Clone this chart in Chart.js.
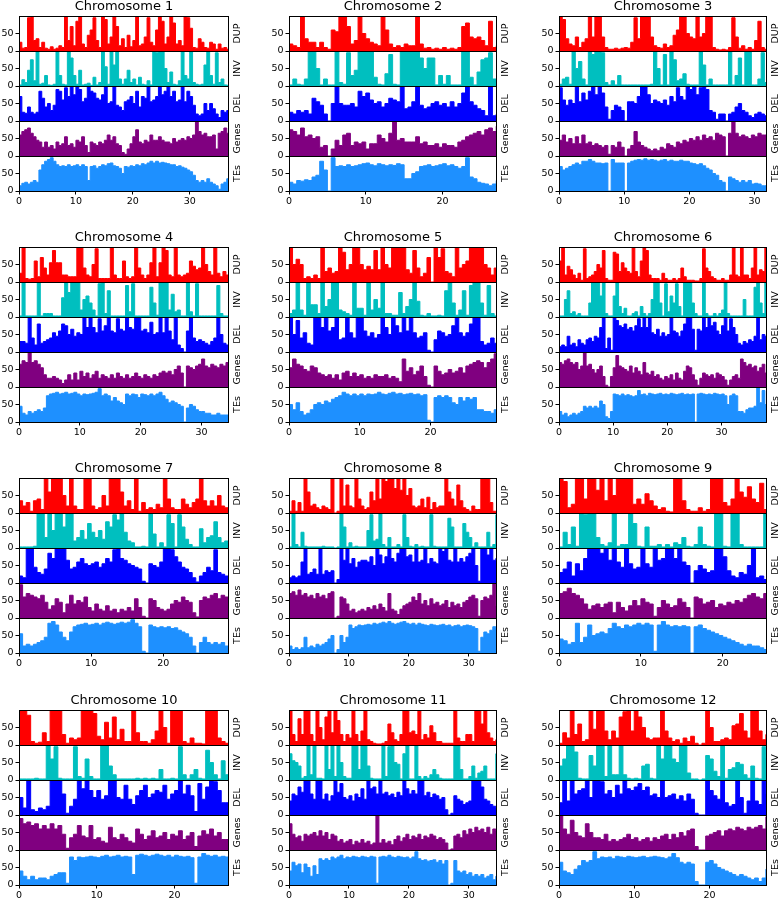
<!DOCTYPE html>
<html>
<head>
<meta charset="utf-8">
<script src="https://cdn.jsdelivr.net/npm/chart.js@4.4.1/dist/chart.umd.min.js"></script>
<style>
  html, body { margin: 0; padding: 0; background: #fff; }
  #page { position: relative; width: 780px; height: 899px; overflow: hidden; }
  #page canvas { position: absolute; }
</style>
</head>
<body>
<div id="page"></div>
<script>
// Per-chromosome density tracks, 0.5 Mb bins, values in percent.
const binSize = 0.5;
const chromLengths = [36.9, 27.1, 31.9, 34.5, 29.4, 38.4, 29.1, 34.7, 25.4, 27.0, 34.7, 27.65];
const trackNames = ['DUP', 'INV', 'DEL', 'Genes', 'TEs'];
const trackColors = ['#ff0000', '#00bfbf', '#0000ff', '#800080', '#1e90ff'];
const xTicks = [0, 10, 20, 30];
const yTicks = [0, 50];

const dup1 = [25,8,10,95,100,30,35,10,25,8,5,12,5,8,15,10,100,30,70,15,85,100,20,10,45,60,95,30,10,100,90,20,40,100,70,15,35,10,45,12,30,100,15,20,40,95,25,15,60,100,85,20,40,100,80,20,30,15,100,95,65,10,8,35,25,10,8,25,20,5,20,8,10,5];
const inv1 = [3,18,10,45,75,15,100,5,8,30,3,2,5,100,30,5,3,100,80,30,5,45,3,5,8,2,25,3,10,100,55,5,100,60,100,20,5,20,45,10,20,3,25,5,3,15,3,100,95,100,100,50,10,40,5,3,15,100,30,20,100,10,5,3,5,60,100,30,5,95,10,20,3,2];
const del1 = [70,25,22,40,25,20,25,85,65,40,50,30,45,90,85,60,95,70,100,75,100,90,55,65,100,85,80,65,60,75,100,50,55,100,45,40,30,55,60,70,50,85,40,70,65,100,55,60,70,100,75,85,100,70,85,55,60,100,55,85,70,45,20,15,20,50,30,50,35,20,10,30,25,30];
const genes1 = [60,70,75,80,65,55,45,40,25,40,25,30,20,40,30,35,55,30,35,25,45,40,55,30,10,40,35,30,40,35,45,60,45,55,35,30,10,5,20,35,55,75,40,35,45,40,60,45,45,55,45,40,40,35,50,40,45,50,45,55,50,60,100,70,60,65,55,55,60,20,65,70,80,65];
const tes1 = [15,22,25,20,25,30,25,60,75,85,90,95,85,75,70,72,70,75,70,72,75,70,75,70,30,70,72,65,70,75,72,78,80,72,70,65,50,70,68,72,70,75,72,78,75,80,85,80,85,80,82,80,78,75,75,70,72,68,65,60,55,45,30,25,30,25,35,25,20,15,5,20,25,35];

const dup2 = [20,15,10,100,35,25,25,10,25,10,5,60,55,100,100,70,20,30,100,50,35,25,20,15,100,60,20,10,15,10,20,15,15,100,20,8,10,5,8,5,10,5,8,5,10,70,80,40,35,40,30,15,85,10,15];
const inv2 = [3,20,5,3,20,100,100,50,3,20,3,3,100,10,5,95,30,45,100,100,100,100,25,5,3,35,90,5,3,100,100,100,100,100,80,50,80,80,3,30,5,30,3,3,3,100,100,25,3,40,75,80,95,20,3];
const del2 = [25,20,30,25,30,20,65,55,45,20,0,50,100,50,45,45,50,40,85,70,80,60,50,55,40,50,65,60,55,100,35,40,55,100,45,35,40,50,55,45,50,40,55,40,50,80,100,55,45,35,30,15,100,15,20];
const genes2 = [75,70,60,80,55,60,50,55,25,30,0,20,45,30,60,65,30,40,35,40,20,35,35,60,50,40,65,100,45,50,40,40,40,55,35,40,30,30,35,25,35,30,30,25,40,45,55,60,65,70,60,75,80,70,85];
const tes2 = [25,20,30,28,32,30,40,45,85,60,0,95,70,72,70,75,70,72,75,78,80,75,72,78,75,72,75,73,78,75,35,35,50,55,70,72,75,70,72,75,78,72,75,70,65,70,95,40,35,25,22,20,15,20,30];

const dup3 = [100,90,35,20,15,40,10,25,35,100,40,100,100,40,10,5,5,8,5,8,10,8,25,95,35,100,100,100,40,15,10,8,20,10,15,45,60,100,100,50,40,35,100,40,50,100,100,10,5,3,5,3,10,95,40,8,15,5,10,5,30,85,10,5];
const inv3 = [5,20,25,5,100,50,70,20,3,100,90,100,100,95,10,3,15,3,30,3,3,3,3,3,3,3,3,3,5,100,50,3,90,3,100,75,15,20,35,5,3,3,3,100,60,3,20,3,3,3,3,3,100,3,30,80,3,100,100,3,3,20,95,10];
const del3 = [95,60,45,60,50,100,55,80,60,85,100,75,100,80,40,5,30,45,40,30,0,55,55,50,70,100,100,75,50,60,55,50,60,45,70,55,95,70,60,100,90,100,75,95,100,90,30,25,5,20,20,0,20,25,40,50,30,25,15,10,20,25,20,15];
const genes3 = [45,60,40,50,35,55,35,60,35,40,30,35,30,25,30,5,30,25,40,25,0,20,30,70,40,30,25,20,15,20,15,25,20,35,30,25,40,35,45,40,50,45,55,45,60,50,55,45,65,60,55,0,65,100,65,55,60,55,50,60,55,65,60,60];
const tes3 = [70,60,65,70,75,80,75,85,85,90,85,80,80,78,80,0,90,80,80,80,0,80,85,88,90,88,92,88,90,88,85,88,90,85,88,85,85,88,85,85,80,78,75,78,72,65,60,50,45,30,25,0,40,35,30,25,30,25,30,20,22,20,15,15];

const dup4 = [25,100,10,8,10,60,15,70,40,20,55,90,55,55,20,20,15,15,15,100,100,40,20,15,50,95,10,10,10,10,100,20,10,10,60,15,10,15,100,40,20,10,20,55,100,15,55,100,90,20,15,100,20,15,20,25,60,45,35,40,100,50,30,20,100,25,15,30,20];
const inv4 = [3,100,3,3,3,3,100,3,10,10,10,3,3,3,55,100,70,100,100,100,20,50,60,40,20,3,95,100,10,75,3,3,3,3,3,90,15,95,3,3,3,3,3,85,40,5,100,100,100,20,65,15,20,3,3,100,15,3,95,3,3,3,3,3,3,90,10,3,3];
const del4 = [30,30,25,100,40,20,80,25,30,35,40,55,45,60,80,75,50,65,45,55,50,100,70,100,70,55,95,60,75,100,60,55,95,65,60,100,70,65,100,100,60,65,55,85,50,55,100,55,100,60,35,100,20,10,0,60,100,40,30,35,30,25,20,30,40,100,50,25,20];
const genes4 = [65,75,70,100,70,75,65,55,35,25,25,30,25,20,10,20,35,20,40,20,45,30,40,25,35,45,25,35,30,25,35,25,40,30,25,35,25,30,40,30,25,35,30,25,35,30,40,45,40,45,35,50,60,40,0,60,55,50,60,65,80,60,55,65,60,55,65,60,70];
const tes4 = [45,25,20,30,25,30,35,30,40,75,80,82,85,80,82,85,80,82,85,80,75,80,78,80,82,85,95,75,80,75,60,70,60,55,50,80,75,80,78,70,80,78,75,80,75,80,85,75,65,55,60,55,50,45,0,40,50,45,35,30,30,25,25,20,20,25,20,20,20];

const dup5 = [100,50,65,50,10,15,10,20,10,100,30,40,25,30,100,85,35,50,100,100,50,35,45,35,90,35,100,50,40,100,100,100,100,35,25,90,40,15,25,70,0,100,70,95,30,25,15,100,40,50,60,100,100,100,100,50,40,20,40];
const inv5 = [10,20,100,20,5,100,35,35,10,100,30,50,100,100,20,15,10,5,100,25,25,5,100,20,50,25,100,10,10,5,5,70,10,30,50,100,45,5,3,10,3,3,5,3,75,100,40,5,20,75,5,90,100,100,40,5,90,10,3];
const del5 = [100,50,90,40,55,25,20,100,100,70,100,60,70,100,35,40,100,55,40,100,100,60,45,55,40,50,100,70,50,100,75,55,100,60,100,55,40,45,55,5,0,35,60,55,45,50,75,100,55,45,55,80,100,100,30,20,25,40,25];
const genes5 = [55,80,65,60,50,45,60,55,40,35,30,35,25,35,20,40,45,30,40,30,35,25,30,25,35,30,30,35,25,30,25,15,80,45,55,35,45,60,30,5,0,60,45,35,40,50,40,45,55,40,60,65,70,75,70,55,70,80,95];
const tes5 = [50,35,55,30,20,25,35,50,55,50,60,55,65,70,75,85,80,75,80,75,80,75,80,78,80,85,80,78,82,85,80,82,78,80,82,78,80,75,78,5,0,70,75,70,75,70,55,50,70,60,70,65,70,35,35,30,30,25,35];

const dup6 = [60,100,20,45,35,20,10,25,5,95,10,15,20,30,50,40,90,10,5,5,85,80,30,55,40,30,25,100,30,15,60,100,90,20,10,10,10,5,25,10,5,5,10,5,10,40,15,5,5,5,3,3,10,95,40,30,15,10,5,5,10,5,5,20,100,20,15,100,20,20,10,40,100,20,35,30,100];
const inv6 = [3,3,50,75,10,15,5,10,3,3,3,40,100,100,100,60,100,10,3,3,60,100,30,10,25,3,3,10,15,3,30,10,3,10,50,100,100,40,3,95,15,60,40,95,30,3,100,100,100,40,10,3,3,100,10,3,3,10,3,10,20,100,10,3,3,3,3,3,50,3,3,3,85,100,40,10,100];
const del6 = [15,20,15,45,20,25,15,35,25,20,35,40,30,45,40,70,100,10,40,5,100,90,75,70,80,65,70,60,75,95,70,100,70,100,55,50,65,45,55,45,50,100,60,55,45,60,80,100,100,65,5,65,60,100,70,100,75,85,60,50,75,100,60,95,70,50,25,20,30,25,35,30,45,100,35,50,45];
const genes6 = [70,65,75,80,70,65,70,50,60,100,60,65,50,40,50,60,30,5,0,30,55,90,60,55,50,45,60,40,55,45,35,70,40,35,45,30,35,25,20,30,25,35,20,40,25,20,45,60,55,35,20,5,25,40,35,30,35,25,40,35,30,20,5,20,30,35,25,80,70,60,65,55,60,45,55,65,40];
const tes6 = [30,20,25,15,20,25,20,25,30,45,40,45,40,45,40,60,50,15,10,30,80,78,75,80,75,78,75,72,75,90,78,80,75,82,80,78,80,82,78,80,78,82,80,78,80,82,78,80,78,80,0,80,82,80,78,80,78,82,80,78,80,75,50,75,80,75,30,30,25,35,40,40,45,100,55,90,50];

const dup7 = [35,20,30,5,35,40,10,100,60,100,100,100,50,20,100,20,10,10,100,100,20,10,15,50,20,100,100,100,60,20,35,10,100,5,30,10,15,10,25,15,100,40,15,10,10,40,25,15,30,40,100,35,20,35,20,50,20,15];
const inv7 = [3,3,3,3,5,100,100,30,100,50,100,100,60,100,100,20,30,50,25,70,45,30,50,25,75,60,95,80,100,45,20,15,3,3,5,3,100,40,3,15,3,95,70,3,95,60,25,10,3,3,55,15,30,35,75,30,15,20];
const del7 = [20,15,100,100,45,30,25,40,85,70,100,100,100,65,40,45,60,70,55,50,55,60,45,55,70,60,95,100,70,65,55,50,45,40,5,0,55,50,45,60,100,100,95,75,60,45,40,30,15,3,20,30,45,35,95,30,25,20];
const genes7 = [95,60,70,65,60,55,65,45,25,35,55,45,15,40,65,40,50,45,60,30,20,40,25,20,35,20,25,15,25,20,30,20,55,30,5,0,55,50,30,25,20,25,40,50,45,60,50,45,15,3,50,60,55,65,70,55,65,60];
const tes7 = [55,20,25,20,25,30,35,45,85,90,80,60,45,35,60,75,80,82,85,80,82,85,80,85,88,85,82,85,88,85,88,95,85,75,5,0,80,75,72,75,72,75,70,72,65,60,55,45,20,0,30,45,30,25,30,25,30,20];

const dup8 = [5,35,5,30,5,100,60,20,25,15,10,20,15,10,100,0,5,100,20,80,20,15,100,40,20,10,15,60,35,100,40,100,90,100,100,70,100,65,100,50,70,20,15,20,40,15,45,10,30,15,20,20,100,60,40,20,80,35,15,10,5,20,10,10,100,100,100,30,5,5];
const inv8 = [3,100,10,3,45,5,3,3,3,3,3,5,3,3,3,0,3,100,60,3,15,3,5,3,3,3,50,95,20,25,100,10,3,30,3,3,10,3,95,30,5,3,10,3,5,3,3,95,5,3,3,3,3,85,60,3,3,3,70,45,30,3,15,3,3,3,45,3,10,95];
const del8 = [15,20,15,20,60,100,25,30,40,25,100,25,35,30,35,0,10,100,65,100,55,70,45,60,65,65,60,75,50,100,80,55,75,100,70,60,85,100,100,75,80,60,100,60,65,100,55,70,60,55,100,90,100,65,60,100,60,70,60,75,85,100,50,5,100,100,80,100,65,70];
const genes8 = [70,75,65,80,65,70,60,65,55,70,60,65,55,70,75,0,5,60,55,40,20,25,15,20,25,20,30,25,35,25,40,30,20,70,25,20,10,25,35,40,45,60,50,70,40,50,35,55,40,45,35,40,50,30,45,35,40,30,45,50,60,65,55,5,50,60,55,65,100,35];
const tes8 = [20,10,15,10,15,45,15,20,15,25,20,25,30,40,50,0,10,50,30,45,80,70,75,80,78,80,82,80,85,82,85,88,85,90,85,82,85,88,90,85,82,85,80,85,82,80,78,82,80,78,80,82,78,80,75,78,80,75,78,80,78,75,70,5,45,60,55,65,75,70];

const dup9 = [100,90,15,25,100,100,40,100,100,65,100,35,100,50,100,100,100,100,25,40,25,55,35,20,10,15,5,3,100,100,35,10,5,5,15,5,10,100,100,100,30,20,40,100,60,45,75,40,30,85,10];
const inv9 = [3,45,10,60,5,100,95,100,100,30,10,5,15,100,5,10,10,100,70,5,3,60,5,5,10,3,10,3,15,10,30,5,3,10,60,10,5,3,100,100,5,3,100,100,10,3,3,3,3,3,100];
const del9 = [30,40,60,20,55,35,70,100,100,100,85,100,65,100,60,45,100,55,40,45,100,55,45,100,65,70,100,100,70,100,60,50,0,35,50,40,30,35,100,100,75,35,20,15,30,25,50,100,15,20,10];
const genes9 = [70,75,85,70,65,55,40,25,35,40,30,40,45,15,45,30,20,35,50,35,55,45,40,5,30,50,40,30,35,55,45,30,0,60,55,40,45,50,30,40,35,45,40,50,45,55,65,70,60,55,70];
const tes9 = [40,35,25,30,85,30,45,80,50,55,60,55,70,85,75,70,80,75,80,85,80,85,80,5,80,90,80,75,78,75,78,75,0,75,80,70,65,60,55,50,45,40,35,30,25,20,25,20,20,15,10];

const dup10 = [100,100,85,10,5,8,35,10,100,100,100,30,5,20,15,20,100,100,100,90,25,15,65,20,80,15,45,10,10,100,35,10,10,5,15,40,100,50,5,100,100,100,10,5,20,5,5,3,100,100,100,20,10,5];
const inv10 = [3,3,3,3,5,3,3,100,60,95,5,3,3,3,95,10,5,60,10,3,3,100,100,40,15,3,3,3,3,3,5,3,5,3,5,3,30,3,3,5,3,95,15,3,15,30,5,3,85,50,15,3,55,15];
const del10 = [50,20,100,15,10,20,15,25,100,100,100,60,5,25,45,100,75,100,70,50,70,45,55,100,100,50,45,85,45,30,55,70,85,50,60,70,65,85,45,60,70,100,60,85,55,10,90,45,80,100,95,70,35,35];
const genes10 = [90,75,80,70,75,60,70,60,75,60,70,45,5,35,45,70,40,35,70,30,35,25,20,65,35,30,45,35,25,20,60,45,30,40,55,35,40,50,30,45,40,55,30,40,50,10,40,55,45,60,40,50,30,30];
const tes10 = [40,25,15,25,15,20,20,15,25,30,35,35,5,80,70,80,78,80,82,80,78,82,85,80,82,85,80,82,80,30,85,88,85,82,85,88,85,82,85,80,85,82,80,82,78,5,80,90,85,82,85,80,82,80];

const dup11 = [100,30,10,75,30,100,100,30,10,100,50,15,80,100,35,100,70,30,10,30,20,100,30,10,40,100,15,10,5,3,3,5,10,60,35,15,10,30,100,100,35,40,30,100,15,30,20,55,35,10,10,5,5,5,5,100,20,10,10,30,30,10,100,100,60,100,35,20,10,15];
const inv11 = [75,55,50,40,5,10,100,15,100,5,5,3,100,30,100,10,100,50,10,5,5,100,100,30,100,100,40,5,3,3,3,100,10,95,100,50,45,3,75,100,3,3,100,10,3,10,5,15,30,15,5,3,3,3,3,100,100,30,3,3,10,40,5,20,25,40,3,3,3,75];
const del11 = [40,60,55,80,65,100,100,60,45,100,100,45,60,40,55,100,65,90,50,45,55,40,60,50,75,45,100,75,80,60,100,60,65,55,60,50,65,55,100,75,60,70,60,100,100,55,65,50,60,55,45,50,15,0,5,55,45,40,30,35,40,100,100,100,80,45,40,30,25,20];
const genes11 = [75,45,35,40,25,45,40,45,50,40,55,40,50,30,45,40,25,30,20,25,30,15,25,20,30,20,25,15,20,100,20,30,20,25,15,30,40,25,35,45,30,40,35,45,30,40,35,45,40,30,35,30,20,0,3,40,45,35,55,45,60,50,65,55,60,50,65,45,60,55];
const tes11 = [40,65,55,60,35,60,50,25,55,30,75,70,75,70,80,75,80,85,75,80,78,82,80,78,82,80,78,82,80,5,80,82,80,85,80,78,82,80,78,80,75,80,95,75,70,72,68,70,72,65,70,60,70,0,5,70,40,35,40,30,35,25,30,25,30,20,25,30,15,25];

const dup12 = [5,35,20,100,30,60,10,15,100,45,100,100,40,15,40,20,80,95,100,40,100,80,50,20,15,20,20,100,40,20,10,15,5,20,10,25,5,0,5,100,50,10,10,15,20,15,55,60,90,40,20,100,100,40,15,30];
const inv12 = [40,60,100,100,80,5,3,3,70,40,100,100,10,100,15,15,100,15,5,3,5,3,40,45,5,3,100,60,100,100,60,50,100,100,20,3,3,0,3,70,60,25,10,100,5,30,35,50,45,15,5,40,5,3,95,65];
const del12 = [35,100,40,100,60,70,75,100,50,100,100,95,60,70,50,85,60,100,75,70,80,90,70,80,55,60,50,100,50,55,60,45,55,40,60,45,5,0,0,100,70,55,45,100,35,25,30,100,50,5,40,100,40,30,100,60];
const genes12 = [100,60,45,85,50,40,35,75,50,35,35,30,45,25,30,25,30,35,45,30,35,25,30,35,25,35,30,40,45,30,45,35,50,40,55,60,10,0,0,40,45,50,55,40,55,60,55,65,60,55,65,60,65,70,60,95];
const tes12 = [65,40,35,30,45,55,70,65,70,95,75,80,78,80,75,82,80,78,82,80,78,80,82,78,80,82,80,78,75,80,90,78,65,60,65,60,10,0,0,65,70,60,50,45,40,35,30,25,30,25,20,15,20,10,20,45];

const chromTracks = [
  [dup1, inv1, del1, genes1, tes1],
  [dup2, inv2, del2, genes2, tes2],
  [dup3, inv3, del3, genes3, tes3],
  [dup4, inv4, del4, genes4, tes4],
  [dup5, inv5, del5, genes5, tes5],
  [dup6, inv6, del6, genes6, tes6],
  [dup7, inv7, del7, genes7, tes7],
  [dup8, inv8, del8, genes8, tes8],
  [dup9, inv9, del9, genes9, tes9],
  [dup10, inv10, del10, genes10, tes10],
  [dup11, inv11, del11, genes11, tes11],
  [dup12, inv12, del12, genes12, tes12],
];

// page grid (plot-area corners)
const colLeft = [19, 289, 559];
const colWidth = [210, 208, 208];
const rowTop = [16, 247, 478, 710];
const plotHeight = 175;
const AXIS_W = 22, TITLE_H = 18, XAXIS_H = 16, RIGHT_PAD = 16;

Chart.defaults.font.family = '"DejaVu Sans", sans-serif';
Chart.defaults.color = '#000';

const trackLabels = {
  id: 'trackLabels',
  afterDatasetsDraw(chart) {
    const { ctx, chartArea } = chart;
    ctx.save();
    ctx.strokeStyle = '#000';
    ctx.lineWidth = 1;
    trackNames.forEach((name, t) => {
      const s = chart.scales['y' + t];
      ctx.strokeRect(chartArea.left + 0.5, s.top + 0.5, chartArea.right - chartArea.left - 1, s.bottom - s.top);
    });
    ctx.fillStyle = '#000';
    ctx.font = '9.5px "DejaVu Sans"';
    ctx.textAlign = 'center';
    ctx.textBaseline = 'middle';
    trackNames.forEach((name, t) => {
      const s = chart.scales['y' + t];
      ctx.save();
      ctx.translate(chartArea.right + 9, (s.top + s.bottom) / 2);
      ctx.rotate(-Math.PI / 2);
      ctx.fillText(name, 0, 0);
      ctx.restore();
    });
    ctx.restore();
  },
};

function trackPoints(values, len) {
  const pts = [];
  values.forEach((v, i) => {
    if (i * binSize < len) pts.push({ x: i * binSize, y: v });
  });
  pts.push({ x: len, y: pts[pts.length - 1].y });
  return pts;
}

function makeChart(c) {
  const col = c % 3, row = Math.floor(c / 3);
  const len = chromLengths[c];
  const canvas = document.createElement('canvas');
  const w = AXIS_W + colWidth[col] + RIGHT_PAD;
  const h = TITLE_H + plotHeight + XAXIS_H;
  canvas.width = w;
  canvas.height = h;
  canvas.style.left = (colLeft[col] - AXIS_W) + 'px';
  canvas.style.top = (rowTop[row] - TITLE_H) + 'px';
  canvas.style.width = w + 'px';
  canvas.style.height = h + 'px';
  document.getElementById('page').appendChild(canvas);

  const scales = {
    x: {
      type: 'linear',
      min: 0,
      max: len,
      afterBuildTicks: (axis) => {
        axis.ticks = xTicks.filter((v) => v <= len).map((v) => ({ value: v }));
      },
      afterFit: (axis) => { axis.height = XAXIS_H; },
      grid: { drawOnChartArea: false, drawTicks: true, tickLength: 3.5, color: '#000' },
      border: { display: false },
      ticks: { font: { size: 9.5 }, padding: 1, maxRotation: 0, callback: (v) => String(v) },
    },
  };
  trackNames.forEach((name, t) => {
    scales['y' + t] = {
      type: 'linear',
      position: 'left',
      stack: 'tracks',
      stackWeight: 1,
      weight: 10 - t,
      min: 0,
      max: 100,
      afterBuildTicks: (axis) => { axis.ticks = yTicks.map((v) => ({ value: v })); },
      afterFit: (axis) => { axis.width = AXIS_W; },
      grid: { drawOnChartArea: false, drawTicks: true, tickLength: 3.5, color: '#000' },
      border: { display: false },
      ticks: { font: { size: 9.5 }, padding: 2, callback: (v) => String(v) },
    };
  });

  const datasets = chromTracks[c].map((values, t) => ({
    label: trackNames[t],
    data: trackPoints(values, len),
    yAxisID: 'y' + t,
    stepped: true,
    fill: 'origin',
    backgroundColor: trackColors[t],
    borderColor: trackColors[t],
    borderWidth: 1,
    pointRadius: 0,
  }));

  new Chart(canvas.getContext('2d'), {
    type: 'line',
    data: { datasets },
    options: {
      responsive: false,
      animation: false,
      events: [],
      layout: { padding: { left: 0, right: RIGHT_PAD, top: 0, bottom: 0 } },
      plugins: {
        legend: { display: false },
        tooltip: { enabled: false },
        title: {
          display: true,
          fullSize: false,
          text: 'Chromosome ' + (c + 1),
          color: '#000',
          font: { size: 13, weight: 'normal', lineHeight: TITLE_H + 'px' },
          padding: 0,
        },
      },
      scales,
    },
    plugins: [trackLabels],
  });
}

chromLengths.forEach((len, c) => makeChart(c));
</script>
</body>
</html>
